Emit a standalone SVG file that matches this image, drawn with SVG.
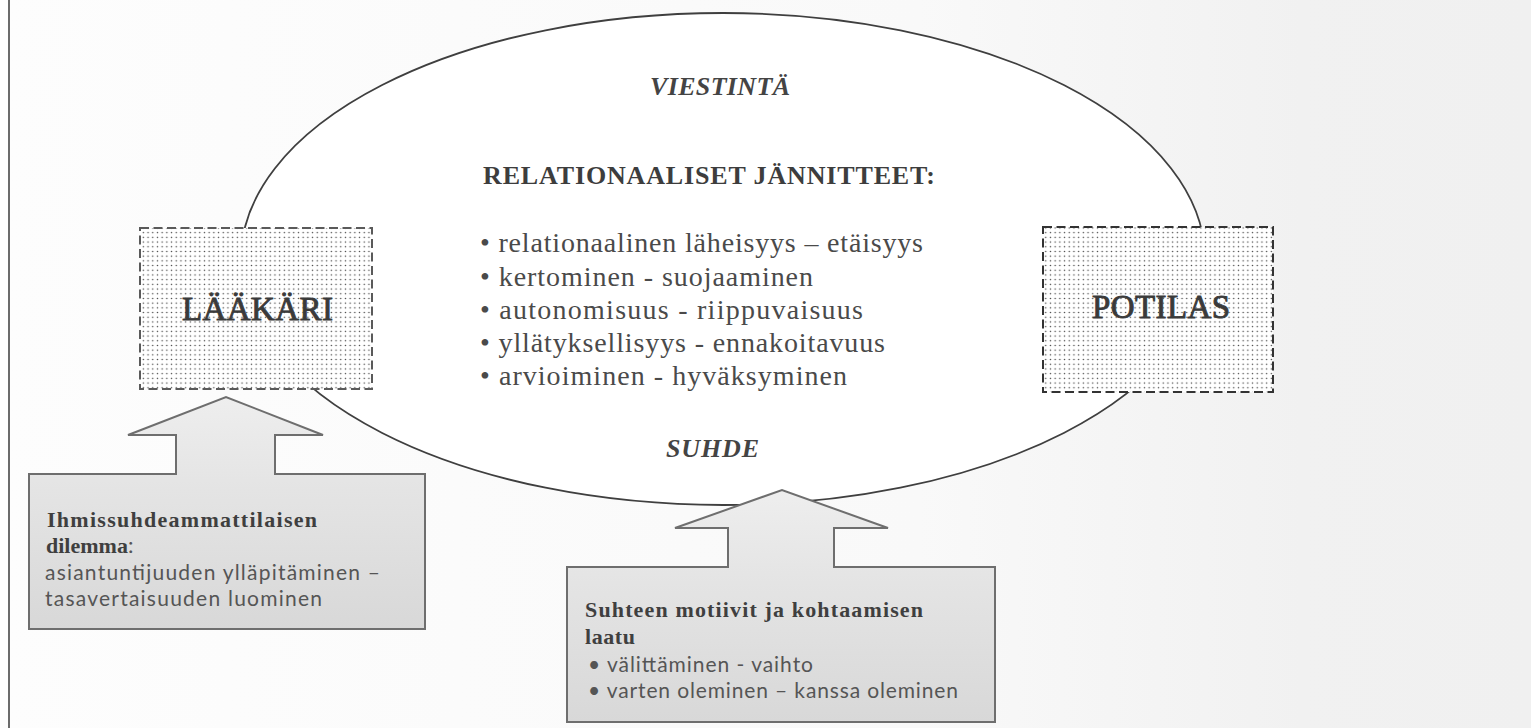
<svg xmlns="http://www.w3.org/2000/svg" width="1531" height="728" viewBox="0 0 1531 728">
<defs>
<style>
.serif{font-family:"Liberation Serif","Times New Roman",serif;}
.sans{font-family:Lato,"Liberation Sans",sans-serif;}
.head{font-size:26px;font-weight:bold;fill:#3d3d3d;}
.ital{font-size:26px;font-weight:bold;font-style:italic;fill:#444;}
.item{font-size:28px;fill:#4a4a4a;}
.big{font-size:33px;fill:#3a3a3a;stroke:#3a3a3a;stroke-width:0.9;}
.ctitle{font-size:22px;font-weight:bold;fill:#3f3f3f;}
.ctext{font-size:21px;fill:#555;}
.dashbox{fill:url(#dots);stroke-width:2;stroke-dasharray:9 4.5;}
.cline{stroke:#6e6e6e;stroke-width:2;stroke-linejoin:miter;}
.open{fill:none;}
.fillL{fill:url(#gradL);}
.fillM{fill:url(#gradM);}
</style>
<pattern id="dots" width="4.7" height="4.7" patternUnits="userSpaceOnUse">
<rect width="4.7" height="4.7" fill="#fff"/>
<circle cx="2.35" cy="2.35" r="0.75" fill="#444"/>
</pattern>
<linearGradient id="bg" x1="0" y1="0" x2="1531" y2="0" gradientUnits="userSpaceOnUse">
<stop offset="0" stop-color="#fdfdfd"/>
<stop offset="0.6" stop-color="#f9f9f9"/>
<stop offset="0.85" stop-color="#f1f1f1"/>
<stop offset="1" stop-color="#f0f0f0"/>
</linearGradient>
<linearGradient id="gradL" x1="0" y1="397" x2="0" y2="629" gradientUnits="userSpaceOnUse">
<stop offset="0" stop-color="#eeeeee"/>
<stop offset="0.4" stop-color="#e4e4e4"/>
<stop offset="1" stop-color="#d8d8d8"/>
</linearGradient>
<linearGradient id="gradM" x1="0" y1="490" x2="0" y2="722" gradientUnits="userSpaceOnUse">
<stop offset="0" stop-color="#eeeeee"/>
<stop offset="0.4" stop-color="#e4e4e4"/>
<stop offset="1" stop-color="#d8d8d8"/>
</linearGradient>
</defs>

<rect x="0" y="0" width="1531" height="728" fill="url(#bg)"/>
<line x1="9" y1="0" x2="9" y2="728" stroke="#6a6a6a" stroke-width="2"/>

<g id="node-relation">
<ellipse cx="723" cy="259" rx="482" ry="246" fill="#fff" stroke="#3f3f3f" stroke-width="1.8"/>
<text class="serif ital" x="650" y="95" textLength="140">VIESTINTÄ</text>
<text class="serif head" x="483" y="184" textLength="452">RELATIONAALISET JÄNNITTEET:</text>
<text class="serif item" x="480" y="252" textLength="443">• relationaalinen läheisyys – etäisyys</text>
<text class="serif item" x="480" y="286" textLength="333">• kertominen - suojaaminen</text>
<text class="serif item" x="480" y="319" textLength="383">• autonomisuus - riippuvaisuus</text>
<text class="serif item" x="480" y="352" textLength="405">• yllätyksellisyys - ennakoitavuus</text>
<text class="serif item" x="480" y="385" textLength="367">• arvioiminen - hyväksyminen</text>
<text class="serif ital" x="666" y="457" textLength="93">SUHDE</text>
</g>

<g id="node-laakari">
<rect class="dashbox" x="140" y="228" width="232" height="161" stroke="#5a5a5a"/>
<text class="serif big" x="182" y="320" textLength="151">LÄÄKÄRI</text>
</g>

<g id="node-potilas">
<rect class="dashbox" x="1043" y="227" width="230" height="165" stroke="#333"/>
<text class="serif big" x="1092" y="318" textLength="138">POTILAS</text>
</g>

<g id="node-callout-left">
<rect x="29" y="474" width="396" height="155" class="cline fillL"/>
<text class="serif ctitle" x="47" y="527" textLength="270">Ihmissuhdeammattilaisen</text>
<text class="serif ctitle" x="46" y="553">dilemma<tspan class="sans" style="font-weight:normal;fill:#555">:</tspan></text>
<text class="sans ctext" x="45" y="580" textLength="335">asiantuntijuuden ylläpitäminen –</text>
<text class="sans ctext" x="45" y="606" textLength="277">tasavertaisuuden luominen</text>
</g>

<g id="node-callout-middle">
<rect x="567" y="567" width="428" height="155" class="cline fillM"/>
<text class="serif ctitle" x="585" y="617" textLength="338">Suhteen motiivit ja kohtaamisen</text>
<text class="serif ctitle" x="585" y="644" textLength="50">laatu</text>
<text class="sans ctext" x="588" y="672" textLength="225">• välittäminen - vaihto</text>
<text class="sans ctext" x="588" y="698" textLength="370">• varten oleminen – kanssa oleminen</text>
</g>

<g id="connectors">
<path class="fillL" d="M177,476 V435 H128 L226,397 L323,435 H274 V476 Z"/>
<path class="cline open" d="M176,474 V435 H128 L226,397 L323,435 H275 V474"/>
<path class="fillM" d="M729,569 V528 H675 L782,490 L888,528 H833 V569 Z"/>
<path class="cline open" d="M728,567 V528 H675 L782,490 L888,528 H834 V567"/>
</g>
</svg>
